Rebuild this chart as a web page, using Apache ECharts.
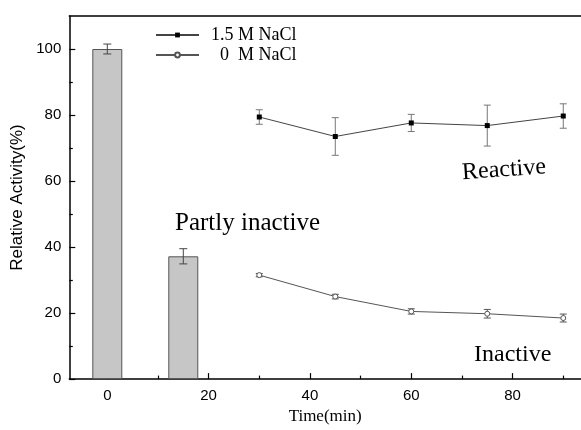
<!DOCTYPE html>
<html>
<head>
<meta charset="utf-8">
<script src="https://cdn.jsdelivr.net/npm/echarts@6/dist/echarts.min.js"></script>
<style>
  html, body { margin: 0; padding: 0; background: #fff; }
  #chart { width: 581px; height: 430px; }
</style>
</head>
<body>
<div id="chart"></div>
<script>
// bars: time, value, error
const barTimes = [0, 15];
const barValues = [100, 37.2];
const barErrors = [1.5, 2.3];

// line series
const lineTimes = [30, 45, 60, 75, 90];
const saltValues = [79.4, 73.5, 77.6, 76.8, 79.7];
const saltErrors = [2.2, 5.7, 2.6, 6.2, 3.7];
const noSaltValues = [31.5, 25.0, 20.5, 19.8, 18.5];
const noSaltErrors = [0.5, 0.7, 0.8, 1.3, 1.2];

const xMajorTicks = [0, 20, 40, 60, 80];
const xMinorTicks = [10, 30, 50, 70, 90];
const yMajorTicks = [0, 20, 40, 60, 80, 100];
const yMinorTicks = [10, 30, 50, 70, 90];

const saltName = '1.5 M NaCl';
const noSaltName = '  0  M NaCl';

const pairs = (xs, ys) => xs.map((x, i) => [x, ys[i]]);
const errRows = (xs, ys, es) => xs.map((x, i) => [x, ys[i] - es[i], ys[i] + es[i]]);

function errorBar(color, cap) {
  return function (params, api) {
    const top = api.coord([api.value(0), api.value(2)]);
    const bot = api.coord([api.value(0), api.value(1)]);
    const style = { stroke: color, lineWidth: 1 };
    return {
      type: 'group',
      children: [
        { type: 'line', shape: { x1: top[0], y1: top[1], x2: bot[0], y2: bot[1] }, style },
        { type: 'line', shape: { x1: top[0] - cap, y1: top[1], x2: top[0] + cap, y2: top[1] }, style },
        { type: 'line', shape: { x1: bot[0] - cap, y1: bot[1], x2: bot[0] + cap, y2: bot[1] }, style }
      ]
    };
  };
}

const chart = echarts.init(document.getElementById('chart'));
const sans = 'Liberation Sans';
const serif = 'Liberation Serif';

chart.setOption({
  animation: false,
  backgroundColor: '#fff',
  grid: { left: 69.3, right: 0, top: 16, bottom: 46.5 },
  legend: {
    data: [saltName, noSaltName],
    orient: 'vertical',
    left: 155,
    top: 26,
    padding: 0,
    itemWidth: 43,
    itemHeight: 6,
    itemGap: 2,
    textStyle: { fontFamily: serif, fontSize: 18, color: '#000', padding: [0, 0, 0, 7] }
  },
  xAxis: [
    {
      type: 'value', min: -7.5, max: 93.5,
      name: 'Time(min)', nameLocation: 'middle', nameGap: 27,
      nameTextStyle: { fontFamily: serif, fontSize: 17, color: '#000' },
      axisLine: { onZero: false, lineStyle: { color: '#000', width: 1.5 } },
      axisTick: { inside: true, length: 6, customValues: xMajorTicks, lineStyle: { color: '#000', width: 1.2 } },
      axisLabel: { customValues: xMajorTicks, fontFamily: sans, fontSize: 15, color: '#000', margin: 9 },
      splitLine: { show: false }
    },
    {
      type: 'value', min: -7.5, max: 93.5, position: 'bottom',
      axisLine: { show: false, onZero: false },
      axisTick: { inside: true, length: 3.5, customValues: xMinorTicks, lineStyle: { color: '#000', width: 1.2 } },
      axisLabel: { show: false },
      splitLine: { show: false }
    },
    {
      type: 'value', min: -7.5, max: 93.5, position: 'top',
      axisLine: { onZero: false, lineStyle: { color: '#000', width: 1.5 } },
      axisTick: { show: false },
      axisLabel: { show: false },
      splitLine: { show: false }
    }
  ],
  yAxis: [
    {
      type: 'value', min: 0, max: 110, position: 'left',
      name: 'Relative Activity(%)', nameLocation: 'middle', nameGap: 34,
      nameTextStyle: { fontFamily: sans, fontSize: 17, color: '#000' },
      axisLine: { show: true, onZero: false, lineStyle: { color: '#000', width: 1.5 } },
      axisTick: { inside: true, length: 6, customValues: yMajorTicks, lineStyle: { color: '#000', width: 1.2 } },
      axisLabel: { customValues: yMajorTicks, fontFamily: sans, fontSize: 15, color: '#000', margin: 8 },
      splitLine: { show: false }
    },
    {
      type: 'value', min: 0, max: 110, position: 'left',
      axisLine: { show: false, onZero: false },
      axisTick: { inside: true, length: 3.5, customValues: yMinorTicks, lineStyle: { color: '#000', width: 1.2 } },
      axisLabel: { show: false },
      splitLine: { show: false }
    }
  ],
  series: [
    {
      type: 'bar', name: 'bars',
      data: pairs(barTimes, barValues),
      barWidth: 30,
      itemStyle: { color: '#c6c6c6', borderColor: '#555', borderWidth: 1 }
    },
    {
      type: 'custom', name: 'barErr',
      data: errRows(barTimes, barValues, barErrors),
      renderItem: errorBar('#444', 4), z: 5
    },
    {
      type: 'line', name: saltName,
      data: pairs(lineTimes, saltValues),
      symbol: 'rect', symbolSize: 5,
      lineStyle: { color: '#444', width: 1 },
      itemStyle: { color: '#000' }, z: 4
    },
    {
      type: 'custom', name: 'saltErr',
      data: errRows(lineTimes, saltValues, saltErrors),
      renderItem: errorBar('#777', 3.5), z: 3
    },
    {
      type: 'line', name: noSaltName,
      data: pairs(lineTimes, noSaltValues),
      symbol: 'circle', symbolSize: 5,
      lineStyle: { color: '#555', width: 1 },
      itemStyle: { color: '#fff', borderColor: '#555', borderWidth: 1 }, z: 4
    },
    {
      type: 'custom', name: 'noSaltErr',
      data: errRows(lineTimes, noSaltValues, noSaltErrors),
      renderItem: errorBar('#555', 3.5), z: 3
    }
  ],
  graphic: [
    { type: 'text', left: 175, top: 211, style: { text: 'Partly inactive', font: '25px "Liberation Serif"', fill: '#000' } },
    { type: 'text', x: 504, y: 170, rotation: 0.07, style: { text: 'Reactive', font: '24px "Liberation Serif"', fill: '#000', align: 'center', verticalAlign: 'middle' } },
    { type: 'text', left: 474, top: 343, style: { text: 'Inactive', font: '24px "Liberation Serif"', fill: '#000' } }
  ]
});
</script>
</body>
</html>
